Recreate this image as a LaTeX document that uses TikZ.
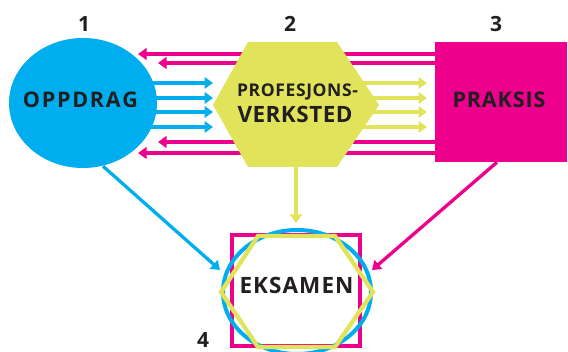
\documentclass[tikz,border=0pt]{standalone}
\usepackage{fontspec}
\setmainfont{Open Sans}
\usetikzlibrary{arrows.meta,shapes.geometric,calc}
\definecolor{cblue}{RGB}{0,174,239}
\definecolor{cmag}{RGB}{236,0,140}
\definecolor{cyel}{RGB}{225,228,90}
\definecolor{ctxt}{RGB}{35,31,32}
\pgfdeclarelayer{bg}
\pgfsetlayers{bg,main}
\newcommand{\lblf}[1]{\bfseries\fontsize{#1}{#1}\selectfont}
\makeatletter
\newcommand\spreadto[2]{\makebox[#1][s]{\@tfor\trk@c:=#2\do{\trk@c\hfil}\unskip}}
\makeatother
\tikzset{
  arr/.style={line width=3.3pt,-{Triangle[length=8.5pt,width=11.5pt]}},
  barr/.style={arr,cblue},
  marr/.style={arr,cmag},
  yarr/.style={arr,cyel},
  lbl/.style={text=ctxt,inner sep=0,anchor=base},
  num/.style={text=ctxt,font=\lblf{21},inner sep=0},
}
\begin{document}
\begin{tikzpicture}[x=1pt,y=-1pt]
\useasboundingbox (0,0) rectangle (568,352);
% top shapes
\node[ellipse,fill=cblue,minimum width=148pt,minimum height=130pt,inner sep=0] (opp) at (83,103) {};
\node[lbl,font=\lblf{21.5}] (opptxt) at (80.5,107.5) {\spreadto{115pt}{OPPDRAG}};
\coordinate (h1) at (213,105);
\coordinate (h2) at (248,42);
\coordinate (h3) at (337,42);
\coordinate (h4) at (379,105);
\coordinate (h5) at (337,167);
\coordinate (h6) at (248,167);
\fill[cyel] (h1)--(h2)--(h3)--(h4)--(h5)--(h6)--cycle;
\node[lbl,font=\lblf{17.5}] (prof1) at (297.5,97) {\spreadto{121pt}{PROFESJONS-}};
\node[lbl,font=\lblf{22.5}] (prof2) at (295,122.5) {\spreadto{115pt}{VERKSTED}};
\node[fill=cmag,minimum width=132pt,minimum height=120pt,inner sep=0] (prak) at (501,102) {};
\node[lbl,font=\lblf{21.5}] (praktxt) at (499,107.5) {\spreadto{93pt}{PRAKSIS}};
% numbers
\node[num] (n1) at (84,24) {1};
\node[num] (n2) at (290,24) {2};
\node[num] (n3) at (496,24) {3};
\node[num] (n4) at (203,340) {4};
% exam
\node[draw=cmag,line width=4pt,minimum width=128pt,minimum height=111pt,inner sep=0] (eksq) at (296,290.5) {};
\node[ellipse,draw=cblue,line width=4pt,minimum width=148pt,minimum height=124pt,inner sep=0] (eksc) at (297,292) {};
\coordinate (e1) at (221,292);
\coordinate (e2) at (258,236);
\coordinate (e3) at (335,236);
\coordinate (e4) at (373,292);
\coordinate (e5) at (335,347);
\coordinate (e6) at (258,347);
\draw[cyel,line width=4.3pt,line join=miter] (e1)--(e2)--(e3)--(e4)--(e5)--(e6)--cycle;
\node[lbl,font=\lblf{22.5}] (eks) at (296.5,293.5) {\spreadto{114pt}{EKSAMEN}};
% arrow end points
\coordinate (ma1) at (138,54);
\coordinate (ma2) at (158,63);
\coordinate (ma3) at (158,142);
\coordinate (ma4) at (138,153);
\coordinate (bt1) at (213,83);
\coordinate (bt2) at (213,98);
\coordinate (bt3) at (213,112);
\coordinate (bt4) at (213,127);
\coordinate (yt1) at (427,83);
\coordinate (yt2) at (427,98);
\coordinate (yt3) at (427,112);
\coordinate (yt4) at (427,127);
\coordinate (ydn) at (296,223);
\coordinate (bdn) at (220,270);
\coordinate (mdn) at (372,270);
\begin{pgfonlayer}{bg}
\foreach \i/\y in {ma1/54,ma2/63,ma3/142,ma4/153}
  \draw[marr] (prak.west |- 0,\y) -- (\i);
\foreach \i/\y in {bt1/83,bt2/98,bt3/112,bt4/127}
  \draw[barr] (opp.center |- 0,\y) -- (\i);
\foreach \i/\y in {yt1/83,yt2/98,yt3/112,yt4/127}
  \draw[yarr] (h3 |- 0,\y) -- (\i);
\draw[yarr] (h6 -| ydn) -- (ydn);
\draw[barr] ($(opp.south)+(20,-2)$) -- (bdn);
\draw[marr] ($(prak.south)+(-4,0)$) -- (mdn);
\end{pgfonlayer}
\end{tikzpicture}
\end{document}
